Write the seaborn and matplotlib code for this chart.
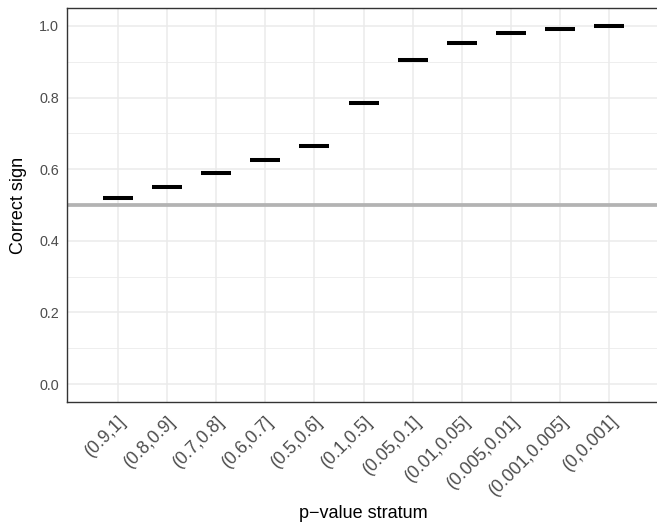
import matplotlib
matplotlib.use("Agg")
import matplotlib.pyplot as plt
import seaborn as sns
import pandas as pd
from matplotlib.ticker import MultipleLocator

# p-value strata, from weakest to strongest evidence
strata = ["(0.9,1]", "(0.8,0.9]", "(0.7,0.8]", "(0.6,0.7]", "(0.5,0.6]",
          "(0.1,0.5]", "(0.05,0.1]", "(0.01,0.05]", "(0.005,0.01]",
          "(0.001,0.005]", "(0,0.001]"]
# proportion of estimates with the correct sign in each stratum
correct_sign = [0.519, 0.551, 0.588, 0.625, 0.664, 0.785, 0.906, 0.953,
                0.979, 0.990, 0.999]
chance_level = 0.5

df = pd.DataFrame({"stratum": pd.Categorical(strata, categories=strata, ordered=True),
                   "correct": correct_sign})

sns.set_theme(style="whitegrid")
plt.rcParams["font.family"] = ["Liberation Sans", "DejaVu Sans"]

W, H, DPI = 657, 524, 100
fig = plt.figure(figsize=(W / DPI, H / DPI), dpi=DPI)
left, right, top, bottom = 66.7, 660.5, 8.3, 402.0
ax = fig.add_axes([left / W, 1 - bottom / H, (right - left) / W, (bottom - top) / H])
ax.set_facecolor("white")

# reference line at chance level
ax.axhline(chance_level, color="#B3B3B3", lw=2.7, zorder=2)

# one horizontal dash per stratum
sns.scatterplot(data=df, x="stratum", y="correct", marker="_", s=470,
                color="black", linewidth=2.9, ax=ax, zorder=3, legend=False)

ax.set_xlim(-1.04, len(strata) - 1 + 1.04)
ax.set_ylim(-0.05, 1.049)
ax.yaxis.set_minor_locator(MultipleLocator(0.1))
ax.set_yticks([0.0, 0.2, 0.4, 0.6, 0.8, 1.0])
ax.set_yticklabels(["0.0", "0.2", "0.4", "0.6", "0.8", "1.0"])

ax.grid(True, which="major", color="#EBEBEB", lw=1.1, zorder=0)
ax.grid(True, which="minor", axis="y", color="#EBEBEB", lw=0.6, zorder=0)
ax.set_axisbelow(True)

for s in ax.spines.values():
    s.set_color("#333333")
    s.set_linewidth(1.0)

ax.tick_params(axis="both", which="major", length=3.5, width=1.0, color="#333333",
               labelcolor="#4D4D4D", labelsize=10.4, pad=2)
ax.tick_params(axis="both", which="minor", length=0)
ax.tick_params(axis="x", labelsize=12.8, pad=4)
plt.setp(ax.get_xticklabels(), rotation=45, ha="right", va="top",
         rotation_mode="anchor")

span = bottom - top
ax.set_xlabel("p\u2212value stratum", fontsize=13, color="black")
ax.xaxis.label.set_va("baseline")
ax.xaxis.set_label_coords(0.5, (bottom - 518.5) / span)
ax.set_ylabel("Correct sign", fontsize=13, color="black")
ax.yaxis.label.set_va("center")
ax.yaxis.set_label_coords((19.0 - left) / (right - left), 0.5)

fig.savefig("out.png", dpi=DPI)
